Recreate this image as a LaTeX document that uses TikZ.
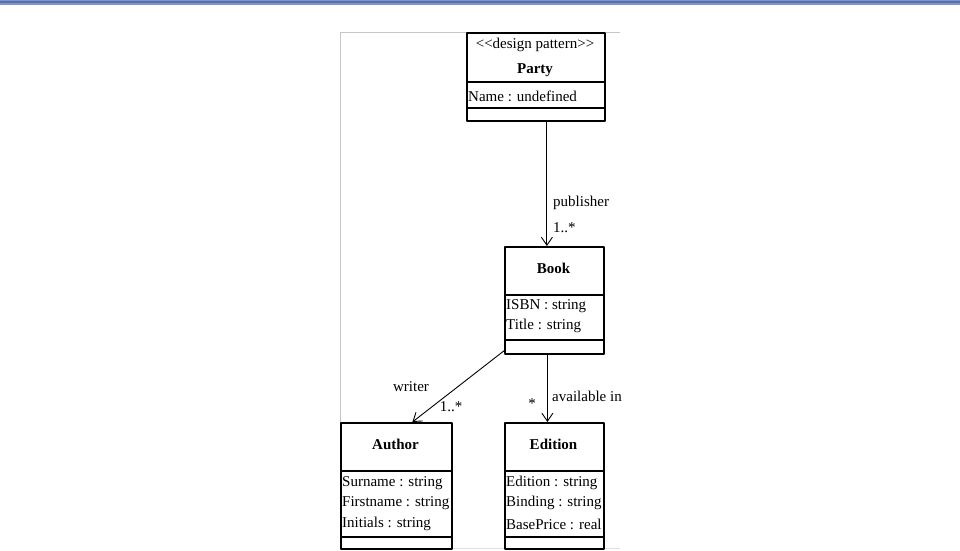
\documentclass[tikz,border=0pt]{standalone}
\usepackage{fontspec}
\setmainfont{Liberation Serif}
\usetikzlibrary{arrows.meta}
\definecolor{barblue}{RGB}{84,112,176}
\definecolor{barlight}{RGB}{128,150,200}
\tikzset{
  cls/.style={draw, line width=1.8pt, inner sep=0pt, anchor=north west},
  sep/.style={line width=1.3pt},
  attr/.style={anchor=west, inner sep=0pt},
  assoc/.style={line width=0.9pt, -{Straight Barb[length=8pt,width=11pt,line width=0.9pt]}},
}
\begin{document}
\begin{tikzpicture}[x=1pt,y=-1pt,line join=round]
  \fontsize{15}{18}\selectfont
  \useasboundingbox (0,0) rectangle (960,550);
  \fill [white] (0,0) rectangle (960,550);
  % top bar
  \fill [barlight] (0,0) rectangle (960,5);
  \fill [barblue] (0,1) rectangle (960,3);
  % panel
  \draw [gray!45] (340,550) -- (340,32) -- (620,32);
  \draw [gray!25] (340,548) -- (620,548);

  % classes
  \node [cls, minimum width=138pt, minimum height=88pt] (party) at (466,32) {};
  \draw [sep] (466,82) -- (604,82);
  \draw [sep] (466,108) -- (604,108);
  \draw (535,45) node{<\kern0pt<design pattern>\kern0pt>};
  \draw (535,70) node{\textbf{Party}};
  \node [attr] (pname) at (468,96) {Name : undefined};

  \node [cls, minimum width=99pt, minimum height=107pt] (book) at (504,246) {};
  \draw [sep] (504,295) -- (603,295);
  \draw [sep] (504,340) -- (603,340);
  \draw (553.5,268) node{\textbf{Book}};
  \node [attr] (isbn) at (506,306) {ISBN : string};
  \node [attr] (title) at (506,326) {Title : string};

  \node [cls, minimum width=111pt, minimum height=126pt] (author) at (340,422) {};
  \draw [sep] (340,471) -- (451,471);
  \draw [sep] (340,537) -- (451,537);
  \draw (395.5,444) node{\textbf{Author}};
  \node [attr] (surname) at (342,483) {Surname : string};
  \node [attr] (first) at (342,503) {Firstname : string};
  \node [attr] (init) at (342,524) {Initials : string};

  \node [cls, minimum width=99pt, minimum height=126pt] (edition) at (504,422) {};
  \draw [sep] (504,471) -- (603,471);
  \draw [sep] (504,537) -- (603,537);
  \draw (553.5,444) node{\textbf{Edition}};
  \node [attr] (ed) at (506,483) {Edition : string};
  \node [attr] (bind) at (506,503) {Binding : string};
  \node [attr] (price) at (506,524) {BasePrice : real};

  % associations
  \draw [assoc] ([xshift=11pt]party.south) -- ([xshift=-7.5pt]book.north);
  \draw (553,203) node[anchor=west, inner sep=0pt]{publisher};
  \draw (553,228) node[anchor=west, inner sep=0pt]{1..*};

  \draw [assoc] ([yshift=4pt]book.south west) -- ([xshift=16pt]author.north);
  \draw (411,387) node{writer};
  \draw (451,407) node{1..*};

  \draw [assoc] ([xshift=-7pt]book.south) -- ([xshift=-7pt]edition.north);
  \draw (532,404) node{*};
  \draw (552,396) node[anchor=west, inner sep=0pt]{available in};
\end{tikzpicture}
\end{document}
